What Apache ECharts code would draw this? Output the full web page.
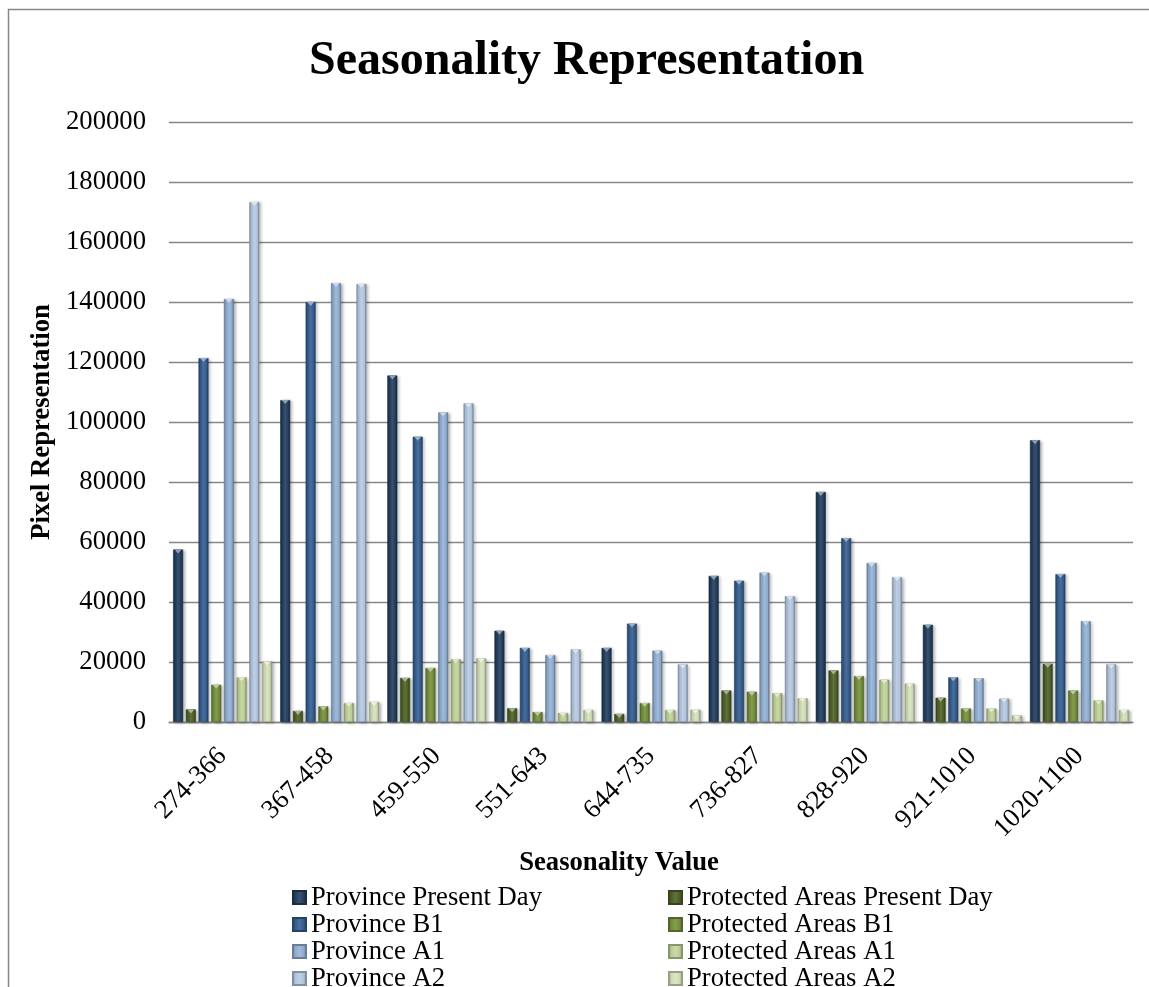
<!DOCTYPE html>
<html>
<head>
<meta charset="utf-8">
<title>Seasonality Representation</title>
<script src="https://cdn.jsdelivr.net/npm/echarts@6/dist/echarts.min.js"></script>
<style>
  html, body { margin: 0; padding: 0; background: #ffffff; }
  #chart { width: 1149px; height: 987px; }
</style>
</head>
<body>
<div id="chart"></div>
<script>
// Seasonality value classes (x axis)
const categories = ['274-366', '367-458', '459-550', '551-643', '644-735', '736-827', '828-920', '921-1010', '1020-1100'];

// Pixel counts per class
const provincePresentDay = [57500, 107300, 115500, 30400, 24700, 48700, 76700, 32400, 93900];
const protectedPresentDay = [4200, 3700, 14700, 4600, 2700, 10500, 17200, 8100, 19400];
const provinceB1 = [121300, 140000, 95100, 24700, 32800, 47100, 61300, 14900, 49300];
const protectedB1 = [12400, 5200, 18000, 3300, 6300, 10100, 15300, 4500, 10500];
const provinceA1 = [141000, 146300, 103200, 22300, 23800, 49800, 53000, 14600, 33600];
const protectedA1 = [14900, 6300, 20900, 3000, 4000, 9600, 14100, 4500, 7200];
const provinceA2 = [173300, 146000, 106200, 24200, 19200, 41900, 48300, 7800, 19200];
const protectedA2 = [20200, 6700, 21200, 4000, 4100, 7900, 12800, 2200, 4000];

const provinceNames = ['Province Present Day', 'Province B1', 'Province A1', 'Province A2'];
const protectedNames = ['Protected Areas Present Day', 'Protected Areas B1', 'Protected Areas A1', 'Protected Areas A2'];

// Series drawn in interleaved order inside each group
const seriesNames = [
  provinceNames[0], protectedNames[0],
  provinceNames[1], protectedNames[1],
  provinceNames[2], protectedNames[2],
  provinceNames[3], protectedNames[3]
];
const seriesValues = [
  provincePresentDay, protectedPresentDay,
  provinceB1, protectedB1,
  provinceA1, protectedA1,
  provinceA2, protectedA2
];
const seriesColors = ['#243F60', '#4F6228', '#365F91', '#76923C', '#95B3D7', '#C3D69B', '#B8CCE4', '#D7E3BC'];

const FONT = "'Liberation Serif', 'Times New Roman', serif";
const BAR_WIDTH = 10;
const BAR_GAP = '27%';

// Mix a hex colour towards black (f < 0) or white (f > 0)
function shade(hex, f) {
  const n = parseInt(hex.slice(1), 16);
  let r = n >> 16, g = (n >> 8) & 255, b = n & 255;
  const t = f < 0 ? 0 : 255, p = Math.abs(f);
  r = Math.round((t - r) * p + r);
  g = Math.round((t - g) * p + g);
  b = Math.round((t - b) * p + b);
  return 'rgb(' + r + ',' + g + ',' + b + ')';
}

// Horizontal gradient giving each column a bevelled, rounded look
function bevel(hex) {
  return new echarts.graphic.LinearGradient(0, 0, 1, 0, [
    { offset: 0, color: shade(hex, -0.35) },
    { offset: 0.2, color: shade(hex, -0.05) },
    { offset: 0.5, color: shade(hex, 0.1) },
    { offset: 0.8, color: shade(hex, -0.05) },
    { offset: 1, color: shade(hex, -0.4) }
  ]);
}

const series = [];
seriesNames.forEach(function (name, i) {
  series.push({
    name: name,
    type: 'bar',
    data: seriesValues[i],
    barWidth: BAR_WIDTH,
    barGap: BAR_GAP,
    itemStyle: {
      color: bevel(seriesColors[i]),
      borderColor: shade(seriesColors[i], -0.3),
      borderWidth: 0.6,
      shadowColor: 'rgba(0,0,0,0.28)',
      shadowBlur: 3,
      shadowOffsetX: 2,
      shadowOffsetY: 1
    },
    emphasis: { disabled: true }
  });
});
// Small light bevel caps on top of each column
seriesNames.forEach(function (name, i) {
  series.push({
    type: 'pictorialBar',
    data: seriesValues[i],
    barWidth: BAR_WIDTH,
    barGap: BAR_GAP,
    symbol: 'triangle',
    symbolRotate: 180,
    symbolSize: [7, 4],
    symbolPosition: 'end',
    z: 3,
    silent: true,
    itemStyle: { color: shade(seriesColors[i], 0.5) }
  });
});

const legendBase = {
  orient: 'vertical',
  top: 884,
  height: 120,
  padding: 0,
  itemGap: 0,
  itemWidth: 13,
  itemHeight: 13,
  icon: 'rect',
  selectedMode: false,
  textStyle: { fontFamily: FONT, fontSize: 26.67, lineHeight: 26, color: '#000' }
};

const chart = echarts.init(document.getElementById('chart'), null, { renderer: 'canvas' });
chart.setOption({
  backgroundColor: '#ffffff',
  animation: false,
  title: {
    text: 'Seasonality Representation',
    left: 304,
    top: 33,
    textStyle: { fontFamily: FONT, fontSize: 48, fontWeight: 'bold', color: '#000' }
  },
  graphic: [{
    type: 'rect',
    silent: true,
    shape: { x: 8.5, y: 9.5, width: 1400, height: 1400 },
    style: { fill: 'none', stroke: '#878787', lineWidth: 1.5 }
  }],
  legend: [
    Object.assign({}, legendBase, { left: 292, data: provinceNames }),
    Object.assign({}, legendBase, { left: 668, data: protectedNames })
  ],
  grid: { left: 169, right: 16, top: 122, bottom: 265 },
  xAxis: {
    type: 'category',
    data: categories,
    axisLine: { lineStyle: { color: '#878787', width: 1.3 } },
    axisTick: { show: false },
    axisLabel: { rotate: 45, margin: 30, fontFamily: FONT, fontSize: 26.67, color: '#000' },
    name: 'Seasonality Value',
    nameLocation: 'middle',
    nameGap: 115,
    nameTextStyle: { fontFamily: FONT, fontSize: 26.67, fontWeight: 'bold', color: '#000', padding: [0, 64, 0, 0] }
  },
  yAxis: {
    type: 'value',
    min: 0,
    max: 200000,
    interval: 20000,
    axisLine: { show: false },
    axisTick: { show: false },
    axisLabel: {
      margin: 23,
      fontFamily: FONT,
      fontSize: 26.67,
      color: '#000',
      formatter: function (v) { return String(v); }
    },
    splitLine: { lineStyle: { color: '#878787', width: 1.3 } },
    name: 'Pixel Representation',
    nameLocation: 'middle',
    nameGap: 107,
    nameTextStyle: { fontFamily: FONT, fontSize: 26.67, fontWeight: 'bold', color: '#000' }
  },
  series: series
});
</script>
</body>
</html>
